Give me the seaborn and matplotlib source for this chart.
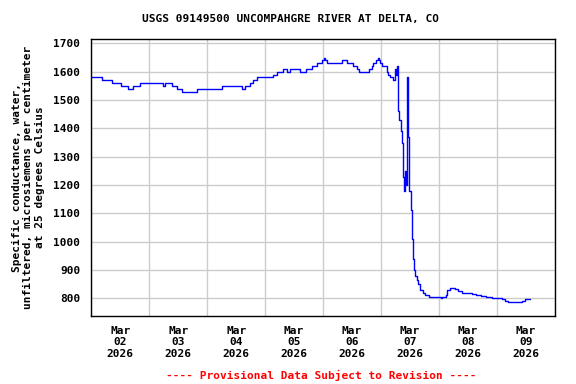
import matplotlib
matplotlib.use("Agg")
import matplotlib.pyplot as plt
import seaborn as sns
import pandas as pd
import numpy as np

# hours since 2026-03-02 00:00 (breakpoints of the step series)
hours = [0, 4.4, 8.5, 12.3, 15.2, 17.2, 20.1, 29.7, 30.5, 33.4, 35.5, 37.6, 43.8,
         54.1, 62.4, 63.7, 65.8, 67.1, 68.7, 75.4, 77.0, 79.5, 81.1, 82.3, 86.4,
         88.9, 91.4, 93.5, 95.6, 96.4, 96.8, 97.6, 103.9, 105.9, 108.4, 110.1,
         110.9, 115.0, 116.3, 116.7, 117.9, 118.8, 119.2, 119.6, 120.4, 122.5,
         122.9, 123.7, 125.0, 125.8, 126.2, 126.5, 126.9, 127.2, 127.6, 128.2,
         128.6, 129.0, 129.3, 129.6, 130.0, 130.3, 130.7, 131.1, 131.4, 131.8,
         132.4, 132.8, 133.2, 133.7, 134.3, 134.8, 135.5, 136.2, 137.3, 138.3,
         139.8, 141.6, 144.9, 145.3, 147.0, 147.4, 148.6, 150.7, 152.0, 153.6,
         157.8, 159.5, 161.6, 163.7, 166.2, 170.3, 171.6, 172.9, 178.7, 179.9, 182.0]
values = [1580, 1570, 1560, 1550, 1540, 1550, 1560, 1550, 1560, 1550, 1540, 1530, 1540,
          1550, 1540, 1550, 1560, 1570, 1580, 1590, 1600, 1610, 1600, 1610, 1600,
          1610, 1620, 1630, 1640, 1650, 1640, 1630, 1640, 1630, 1620, 1610,
          1600, 1610, 1620, 1630, 1640, 1650, 1640, 1630, 1620, 1600,
          1590, 1580, 1570, 1610, 1590, 1620, 1570, 1460, 1430, 1390,
          1350, 1310, 1230, 1180, 1250, 1200, 1580, 1560, 1370, 1180,
          1110, 1010, 940, 900, 880, 865, 850, 830, 820, 810,
          805, 803, 800, 803, 812, 828, 835, 832, 827, 818,
          814, 811, 808, 804, 800, 796, 792, 788, 792, 796, 796]
day_labels = ["Mar\n02\n2026", "Mar\n03\n2026", "Mar\n04\n2026", "Mar\n05\n2026",
              "Mar\n06\n2026", "Mar\n07\n2026", "Mar\n08\n2026", "Mar\n09\n2026"]
y_ticks = [800, 900, 1000, 1100, 1200, 1300, 1400, 1500, 1600, 1700]

df = pd.DataFrame({"hours": hours, "value": values})

sns.set_style("white")
plt.rcParams["font.family"] = ["DejaVu Sans Mono"]
plt.rcParams["font.weight"] = "bold"
plt.rcParams["text.color"] = "black"
plt.rcParams["axes.labelcolor"] = "black"
plt.rcParams["xtick.color"] = "black"
plt.rcParams["ytick.color"] = "black"

fig = plt.figure(figsize=(5.76, 3.84), dpi=100)
ax = fig.add_axes([0.1587, 0.1771, 0.8041, 0.7213])

sns.lineplot(data=df, x="hours", y="value", ax=ax, color="#0000ff",
             linewidth=1.0, drawstyle="steps-post")

ax.set_xlim(0, 192)
ax.set_ylim(737.5, 1715.5)
ax.set_xticks(np.arange(0, 193, 24))
ax.set_xticklabels([])
ax.set_xticks(np.arange(12, 192, 24), minor=True)
ax.set_xticklabels(day_labels, minor=True, fontsize=8, fontweight="bold", color="black")
ax.set_yticks(y_ticks)
ax.set_yticklabels([str(v) for v in y_ticks], fontsize=8, fontweight="bold", color="black")
ax.tick_params(axis="both", which="both", length=0)
ax.tick_params(axis="y", pad=8)
ax.tick_params(axis="x", which="minor", pad=7)
ax.grid(True, which="major", color="#cccccc", linewidth=1.0)
ax.set_axisbelow(True)
for s in ax.spines.values():
    s.set_color("black")
    s.set_linewidth(1.0)
    s.set_visible(True)

ax.set_xlabel("")
ax.set_ylabel("Specific conductance, water,\nunfiltered, microsiemens per centimeter\nat 25 degrees Celsius",
              fontsize=8, fontweight="bold", labelpad=6, color="black")

fig.text(0.505, 1 - 19 / 384, "USGS 09149500 UNCOMPAHGRE RIVER AT DELTA, CO",
         ha="center", va="center", fontsize=8, fontweight="bold", color="black")
fig.text(321 / 576, 1 - 375 / 384, "---- Provisional Data Subject to Revision ----",
         ha="center", va="center", fontsize=8, fontweight="bold", color="red")

fig.savefig("out.png", dpi=100)
